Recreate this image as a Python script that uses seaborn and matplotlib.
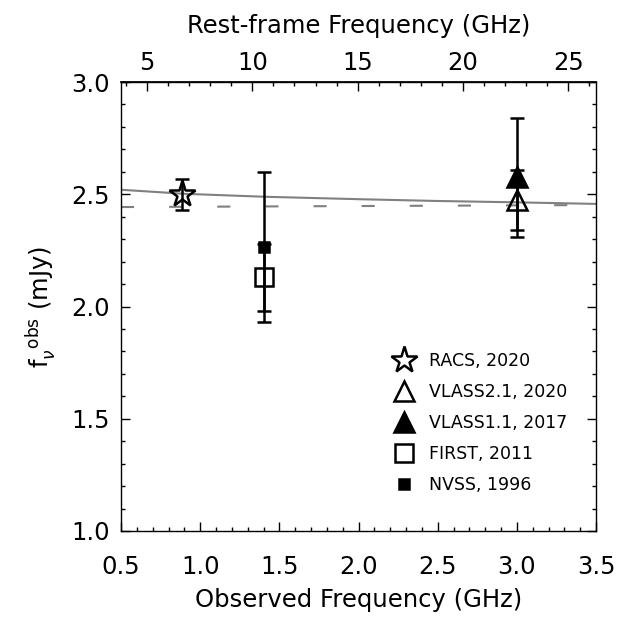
import matplotlib
matplotlib.use("Agg")
import matplotlib.pyplot as plt
import seaborn as sns
from matplotlib.ticker import MultipleLocator, FixedLocator
from matplotlib.lines import Line2D

# Mesures radio (fréquence observée en GHz, flux en mJy)
surveys = ["RACS, 2020", "VLASS2.1, 2020", "VLASS1.1, 2017", "FIRST, 2011", "NVSS, 1996"]
freq_obs = [0.888, 3.0, 3.0, 1.4, 1.4]
flux = [2.50, 2.475, 2.575, 2.13, 2.265]
flux_err = [0.07, 0.135, 0.265, 0.15, 0.335]

# Courbes
fit_freq = [0.5, 0.9, 1.4, 2.0, 2.5, 3.0, 3.5]
fit_flux = [2.520, 2.502, 2.489, 2.478, 2.470, 2.464, 2.457]
flat_freq = [0.5, 3.5]
flat_flux = [2.443, 2.452]

rest_ticks = [5, 10, 15, 20, 25]
one_plus_z = 7.52

sns.set_theme(style="ticks")
plt.rcParams['font.family'] = ['DejaVu Sans']
plt.rcParams['mathtext.fontset'] = 'dejavusans'
for key in ['text.color', 'axes.labelcolor', 'xtick.color', 'ytick.color', 'axes.edgecolor']:
    plt.rcParams[key] = 'black'

fig = plt.figure(figsize=(6.2, 6.26), dpi=100)
ax = fig.add_axes([121 / 620, 1 - 531 / 626, 475 / 620, 449 / 626])

sns.lineplot(x=fit_freq, y=fit_flux, ax=ax, color='#808080', lw=1.5)
sns.lineplot(x=flat_freq, y=flat_flux, ax=ax, color='#808080', lw=1.5,
             dashes=False, linestyle=(0, (6.3, 16.8)))

styles = [
    dict(marker='*', ms=20, mfc='none'),
    dict(marker='^', ms=14, mfc='none'),
    dict(marker='^', ms=14, mfc='black'),
    dict(marker='s', ms=13, mfc='none'),
    dict(marker='s', ms=7, mfc='black'),
]

handles = []
for i in range(len(surveys)):
    ax.errorbar(freq_obs[i], flux[i], yerr=flux_err[i], fmt='none',
                ecolor='black', elinewidth=1.8, capsize=4.7, capthick=1.8)
    st = styles[i]
    ax.plot(freq_obs[i], flux[i], linestyle='none', marker=st['marker'],
            ms=st['ms'], mfc=st['mfc'], mec='black', mew=1.8)
    handles.append(Line2D([], [], linestyle='none', marker=st['marker'],
                          ms=st['ms'], mfc=st['mfc'], mec='black', mew=1.8,
                          label=surveys[i]))

ax.set_xlim(0.5, 3.5)
ax.set_ylim(1.0, 3.0)
ax.xaxis.set_major_locator(MultipleLocator(0.5))
ax.xaxis.set_minor_locator(MultipleLocator(0.1))
ax.yaxis.set_major_locator(MultipleLocator(0.5))
ax.yaxis.set_minor_locator(MultipleLocator(0.1))
ax.xaxis.set_major_formatter(plt.FormatStrFormatter('%.1f'))
ax.yaxis.set_major_formatter(plt.FormatStrFormatter('%.1f'))

ax.tick_params(which='both', direction='in', top=False, right=True,
               labelright=False, color='black', width=1)
ax.tick_params(which='major', length=6.5)
ax.tick_params(which='minor', length=3)
ax.tick_params(axis='x', which='major', pad=17, labelsize=17.5)
ax.tick_params(axis='y', which='major', pad=8, labelsize=17.5)
for sp in ax.spines.values():
    sp.set_visible(True)
    sp.set_color('black')
    sp.set_linewidth(1)

ax.set_xlabel('Observed Frequency (GHz)', fontsize=17.5, labelpad=7)
ax.set_ylabel(r'$\mathrm{f}_{\nu}^{\ \ \mathrm{obs}}$ (mJy)', fontsize=17.5, labelpad=9)

secax = ax.secondary_xaxis('top', functions=(lambda x: x * one_plus_z,
                                             lambda x: x / one_plus_z))
secax.xaxis.set_major_locator(FixedLocator(rest_ticks))
secax.xaxis.set_minor_locator(FixedLocator(list(range(4, 27))))
secax.tick_params(which='both', direction='in', color='black', width=1)
secax.tick_params(which='major', length=6.5, pad=5, labelsize=17.5)
secax.tick_params(which='minor', length=3)
secax.set_xlabel('Rest-frame Frequency (GHz)', fontsize=17.5, labelpad=13)

ax.legend(handles=handles, loc='upper left', bbox_to_anchor=(394 / 620, 1 - 352 / 626),
          bbox_transform=fig.transFigure, frameon=False, fontsize=12.5,
          handlelength=1.2, handletextpad=0.8, labelspacing=0.75,
          borderpad=0, borderaxespad=0)

fig.savefig('out.png', dpi=100)
